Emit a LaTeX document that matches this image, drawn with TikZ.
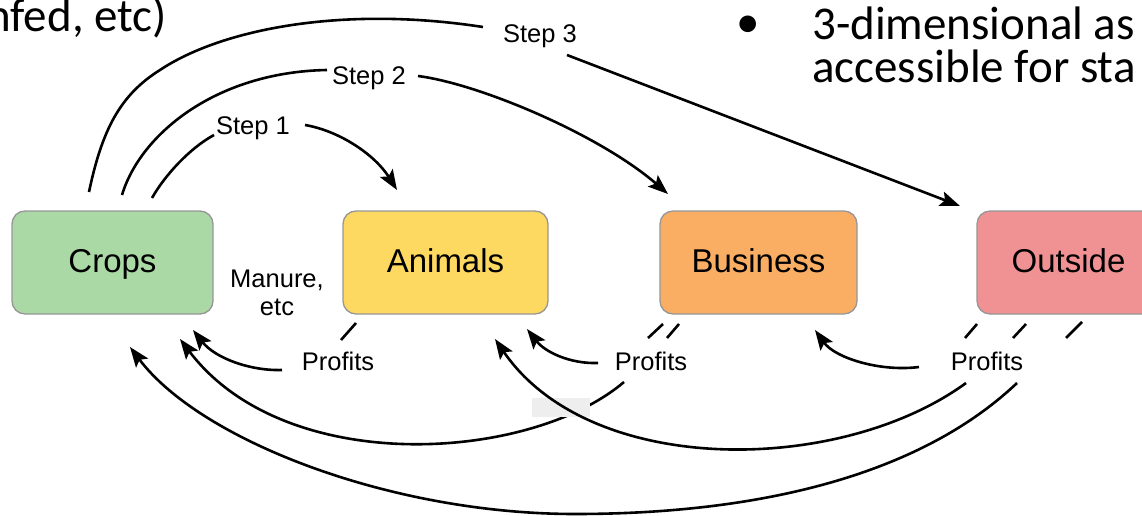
\documentclass[tikz,border=0pt]{standalone}
\usepackage{fontspec}
\setmainfont{Liberation Sans}
\newfontfamily\slidefont{Carlito}
\usetikzlibrary{arrows.meta}
\definecolor{cropsc}{RGB}{171,217,165}
\definecolor{animalsc}{RGB}{254,217,98}
\definecolor{businessc}{RGB}{250,174,100}
\definecolor{outsidec}{RGB}{240,145,148}
\definecolor{boxborder}{RGB}{150,150,150}
\definecolor{patch}{RGB}{238,238,238}
\begin{document}
\begin{tikzpicture}[x=1pt,y=-1pt,
  box/.style={draw=boxborder, line width=1.3pt, rounded corners=13pt, minimum height=103pt, inner sep=0pt, text height=23.8pt, text depth=3pt, font=\fontsize{33}{38}\selectfont},
  lbl/.style={inner sep=0pt, font=\fontsize{25.5}{29}\selectfont},
  slide/.style={inner sep=0pt, font=\slidefont\fontsize{47}{56}\selectfont},
  flow/.style={line width=2.6pt},
  tip/.style={flow, -{Stealth[length=20pt,width=15pt,inset=4pt]}}]
\useasboundingbox (0,0) rectangle (1142,516);
\clip (0,0) rectangle (1142,516);

% slide text
\node[slide, anchor=base east] (t0) at (167,32) {nfed, etc)};
\node[slide, anchor=base] (bul) at (748,38) {•};
\node[slide, anchor=base west] (t1) at (812,40) {3-dimensional as};
\node[slide, anchor=base west] (t2) at (812,83) {accessible for sta};

% boxes
\node[box, fill=cropsc, minimum width=201pt] (crops) at (112.5,262.5) {Crops};
\node[box, fill=animalsc, minimum width=205pt] (animals) at (445.5,262.5) {Animals};
\node[box, fill=businessc, minimum width=197pt] (business) at (758.5,262.5) {Business};
\node[box, fill=outsidec, minimum width=183pt] (outside) at (1068.5,262.5) {Outside};

% labels
\node[lbl, anchor=base] (step1) at (253,135) {Step 1};
\node[lbl, anchor=base] (step2) at (369,85) {Step 2};
\node[lbl, anchor=base] (step3) at (540,43) {Step 3};
\node[lbl, anchor=base] (manure) at (277,287) {Manure,};
\node[lbl, anchor=base] (etc) at (277,315) {etc};
\node[lbl, anchor=base] (profA) at (338,370) {Profits};
\node[lbl, anchor=base] (profB) at (651,370) {Profits};
\node[lbl, anchor=base] (profO) at (987,370) {Profits};

% coordinates
\coordinate (s1a) at (152,198);
\coordinate (s1b) at (214,135);
\coordinate (s1c) at (305,125);
\coordinate (s1t) at (397,190);
\coordinate (s2a) at (122,195);
\coordinate (s2b) at (327,70);
\coordinate (s2c) at (418,76);
\coordinate (s2t) at (668,194);
\coordinate (s3a) at (89,192);
\coordinate (s3m) at (160,70);
\coordinate (s3b) at (483,27);
\coordinate (s3c) at (567,55);
\coordinate (s3t) at (960,206);

\coordinate (a1d1) at (356,323);
\coordinate (a1d2) at (341,340);
\coordinate (a1s) at (282,370);
\coordinate (a1t) at (193,330);

\coordinate (b1d1) at (663,324);
\coordinate (b1d2) at (648,338);
\coordinate (b1s) at (598,363);
\coordinate (b1t) at (527,329);
\coordinate (b2d1) at (679,324);
\coordinate (b2d2) at (667,338);
\coordinate (b2s) at (624,382);
\coordinate (b2t) at (180,339);

\coordinate (o1d1) at (977,324);
\coordinate (o1d2) at (965,338);
\coordinate (o1s) at (919,367);
\coordinate (o1t) at (815,330);
\coordinate (o2d1) at (1026,324);
\coordinate (o2d2) at (1013,338);
\coordinate (o2s) at (966,383);
\coordinate (o2t) at (495,339);
\coordinate (o3d1) at (1082,322);
\coordinate (o3d2) at (1066,338);
\coordinate (o3s) at (1017,383);
\coordinate (o3m) at (575,514);
\coordinate (o3t) at (130,347);

% step arrows
\draw[flow] (s1a) .. controls (165,175) and (190,148) .. (s1b);
\draw[tip] (s1c) .. controls (340,131) and (375,155) .. (s1t);
\draw[flow] (s2a) .. controls (140,135) and (215,72) .. (s2b);
\draw[tip] (s2c) .. controls (480,84) and (600,135) .. (s2t);
\draw[flow] (s3a) .. controls (102,130) and (120,95) .. (s3m)
  .. controls (220,30) and (340,5) .. (s3b);
\draw[tip] (s3c) -- (s3t);

% profit arrows
\draw[flow] (a1d1) -- (a1d2);
\draw[tip] (a1s) .. controls (250,371) and (215,358) .. (a1t);

\draw[flow] (b1d1) -- (b1d2);
\draw[tip] (b1s) .. controls (570,364) and (545,352) .. (b1t);
\draw[flow] (b2d1) -- (b2d2);
\draw[tip] (b2s) .. controls (530,462) and (285,478) .. (b2t);

% grey patch (covers part of the Business-to-Crops line)
\fill[patch] (532,398) rectangle (590,417);

\draw[flow] (o1d1) -- (o1d2);
\draw[tip] (o1s) .. controls (880,372) and (835,358) .. (o1t);
\draw[flow] (o2d1) -- (o2d2);
\draw[tip] (o2s) .. controls (840,475) and (590,478) .. (o2t);
\draw[flow] (o3d1) -- (o3d2);
\draw[tip] (o3s) .. controls (920,475) and (760,514) .. (o3m)
  .. controls (390,514) and (200,440) .. (o3t);
\end{tikzpicture}
\end{document}
